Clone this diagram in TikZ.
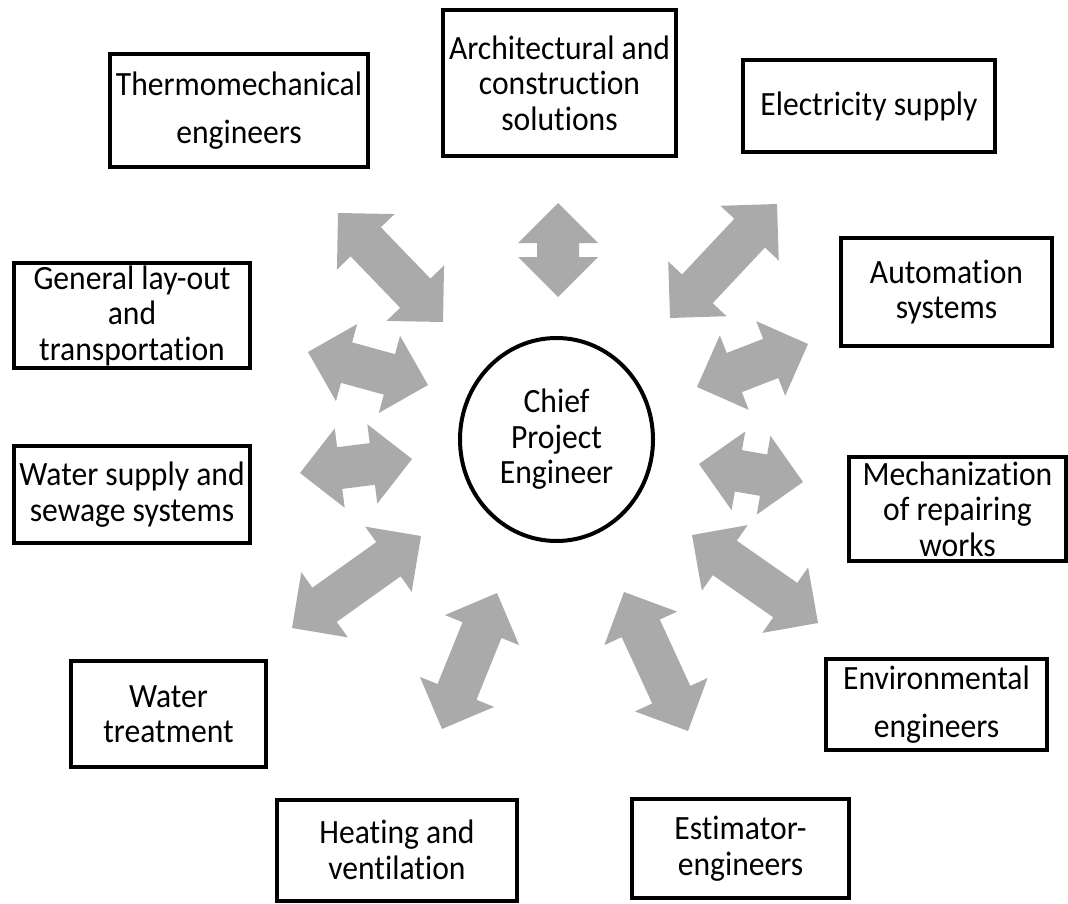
\documentclass[tikz,border=0pt]{standalone}
\usepackage{fontspec}
\setmainfont{Carlito}[FakeStretch=0.93, Ligatures=CommonOff]
\usetikzlibrary{shapes.geometric,calc}

\definecolor{linkgray}{RGB}{170,170,170}

% two-headed block arrow between two named coordinates
\newcommand{\dblarrow}[2]{%
  \fill[link] (#1) -- ($(#1)!40pt!(#2)!40pt!90:(#2)$) -- ($(#1)!40pt!(#2)!21pt!90:(#2)$)
    -- ($(#2)!40pt!(#1)!21pt!-90:(#1)$) -- ($(#2)!40pt!(#1)!40pt!-90:(#1)$) -- (#2)
    -- ($(#2)!40pt!(#1)!40pt!90:(#1)$) -- ($(#2)!40pt!(#1)!21pt!90:(#1)$)
    -- ($(#1)!40pt!(#2)!21pt!-90:(#2)$) -- ($(#1)!40pt!(#2)!40pt!-90:(#2)$) -- cycle;}

\begin{document}
\begin{tikzpicture}[x=1pt, y=-1pt,
every node/.style={font=\fontsize{34}{35.5}\selectfont},
unit/.style={rectangle, draw, line width=4pt, align=center, inner sep=0pt},
chief/.style={ellipse, draw, line width=4pt, align=center, inner sep=0pt},
link/.style={fill=linkgray}
]
\useasboundingbox (0,0) rectangle (1068,904);

\node [chief, minimum width=193, minimum height=203] (cpe) at (556.5,439.5) {Chief\\Project\\Engineer};

\node [unit, minimum width=258, minimum height=113] (thermo) at (239,110.5) {Thermomechanical\\[13pt]engineers};
\node [unit, minimum width=233, minimum height=146] (arch) at (559.5,83) {Architectural and\\construction\\solutions};
\node [unit, minimum width=252, minimum height=92] (elec) at (869,106) {Electricity supply};
\node [unit, minimum width=211, minimum height=108] (auto) at (946.5,292) {Automation\\systems};
\node [unit, minimum width=217, minimum height=104] (mech) at (957.5,509) {Mechanization\\of repairing\\works};
\node [unit, minimum width=221, minimum height=91] (env) at (936.5,704.5) {Environmental\\[13pt]engineers};
\node [unit, minimum width=217, minimum height=99] (est) at (740.5,848.5) {Estimator-\\engineers};
\node [unit, minimum width=240, minimum height=101] (heat) at (397,850) {Heating and\\ventilation};
\node [unit, minimum width=195, minimum height=106] (wtreat) at (168.5,714) {Water\\treatment};
\node [unit, minimum width=236, minimum height=97] (wsupply) at (132,494.5) {Water supply and\\sewage systems};
\node [unit, minimum width=236, minimum height=105] (layout) at (132,315.5) {General lay-out\\and\\transportation};

% arrow tips
\coordinate (thermo-a) at (338,213);  \coordinate (thermo-b) at (443,322);
\coordinate (arch-a) at (558,203);    \coordinate (arch-b) at (558,297);
\coordinate (elec-a) at (777,204);    \coordinate (elec-b) at (670,318);
\coordinate (auto-a) at (808,344);    \coordinate (auto-b) at (697,387);
\coordinate (mech-a) at (803,482);    \coordinate (mech-b) at (699,464);
\coordinate (env-a) at (818,623);     \coordinate (env-b) at (692,535);
\coordinate (est-a) at (688,731);     \coordinate (est-b) at (624,592);
\coordinate (heat-a) at (442,729);    \coordinate (heat-b) at (497,593);
\coordinate (wtreat-a) at (292,628);  \coordinate (wtreat-b) at (421,536);
\coordinate (wsupply-a) at (300,473); \coordinate (wsupply-b) at (412,459);
\coordinate (layout-a) at (308,352);  \coordinate (layout-b) at (428,385);

\dblarrow{thermo-a}{thermo-b}
\dblarrow{arch-a}{arch-b}
\dblarrow{elec-a}{elec-b}
\dblarrow{auto-a}{auto-b}
\dblarrow{mech-a}{mech-b}
\dblarrow{env-a}{env-b}
\dblarrow{est-a}{est-b}
\dblarrow{heat-a}{heat-b}
\dblarrow{wtreat-a}{wtreat-b}
\dblarrow{wsupply-a}{wsupply-b}
\dblarrow{layout-a}{layout-b}

\end{tikzpicture}
\end{document}
